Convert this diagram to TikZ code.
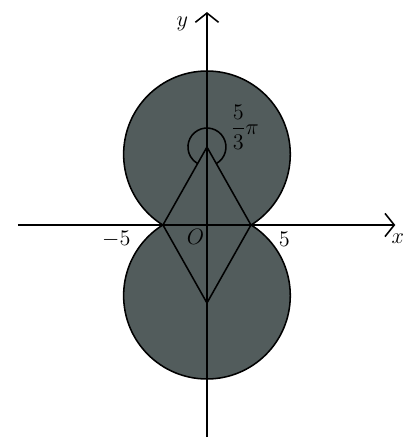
\documentclass[tikz,border=0pt]{standalone}
\usepackage{amsmath, amssymb}
\usepackage{tikz}
\usetikzlibrary{arrows.meta, calc}

\definecolor{slate}{RGB}{82,92,92}

\begin{document}
\begin{tikzpicture}[x=0.2cm, y=0.2cm, line width=1pt, font=\Large,
    axis/.style={-{Straight Barb[length=6pt,width=15pt]}},
    disc/.style={fill=slate}]
  \useasboundingbox (-23.52,-24.32) rectangle (23.52,25.57);
  %--- key points ---
  \coordinate (O) at (0,0);
  \coordinate (A) at (0,8.86);
  \coordinate (B) at (0,-8.86);
  \coordinate (P) at (5,0);
  \coordinate (Q) at (-5,0);
  % the two discs, outlines only outside the overlap
  \fill[disc] (0,8.03) circle (9.47);
  \fill[disc] (0,-8.03) circle (9.47);
  \begin{scope}
    \clip (-12,0) rectangle (12,20);
    \draw (0,8.03) circle (9.47);
  \end{scope}
  \begin{scope}
    \clip (-12,0) rectangle (12,-20);
    \draw (0,-8.03) circle (9.47);
  \end{scope}
  % rhombus
  \draw (A) -- (P) -- (B) -- (Q) -- cycle;
  %--- axes ---
  \coordinate (xl) at (-21.5,0);
  \coordinate (xr) at (21.4,0);
  \coordinate (yb) at (0,-24.1);
  \coordinate (yt) at (0,24.2);
  \draw[axis] (xl) -- (xr);
  \draw[axis] (yb) -- (yt);
  \node (xlab) at (21.7,-1.6) {$x$};
  \node (ylab) at (-2.8,22.9) {$y$};
  \node (olab) at (-1.3,-1.4) {$O$};
  \node (m5) at (-10.3,-1.6) {$-5$};
  \node (p5) at (8.8,-1.6) {$5$};
  % angle mark at the top vertex
  \draw ($(A)+(-60.6:2.16)$) arc[start angle=-60.6, end angle=240.6, radius=2.16];
  \node (ang) at (4.3,11.1) {$\dfrac{5}{3}\pi$};
\end{tikzpicture}
\end{document}
